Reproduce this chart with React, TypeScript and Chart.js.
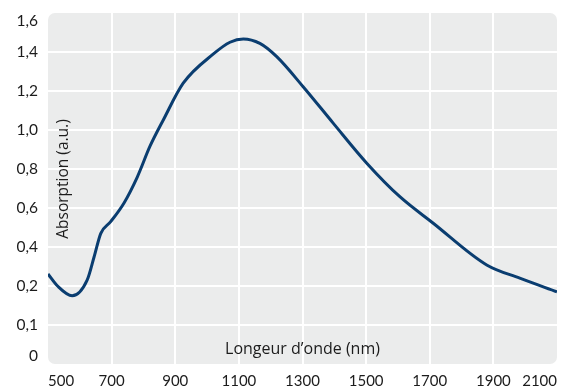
import React, { useEffect, useRef } from 'react';
import { Chart, registerables } from 'chart.js';

Chart.register(...registerables);

// Wavelength (nm) and absorption (a.u.)
const wavelengths = [500, 530, 576, 623, 645, 666, 697, 739, 781, 821, 862, 925, 1020, 1072, 1114, 1166, 1219, 1302, 1397, 1502, 1606, 1711, 1879, 1983, 2100];
const absorption = [0.262, 0.2, 0.175, 0.23, 0.35, 0.47, 0.53, 0.626, 0.76, 0.918, 1.05, 1.24, 1.39, 1.45, 1.467, 1.444, 1.376, 1.222, 1.034, 0.83, 0.658, 0.522, 0.308, 0.24, 0.185];

// Axis ticks
const xTickValues = [500, 700, 900, 1100, 1300, 1500, 1700, 1900, 2100];
const yTickValues = [0, 0.1, 0.2, 0.4, 0.6, 0.8, 1.0, 1.2, 1.4, 1.6];
const yTickLabels = ['0', '0,1', '0,2', '0,4', '0,6', '0,8', '1,0', '1,2', '1,4', '1,6'];

const xTitle = 'Longeur d\u2019onde (nm)';
const yTitle = 'Absorption (a.u.)';

const TICK_FONT = 'Lato';
const TITLE_FONT = '"Open Sans"';
const TEXT = '#1c1c1c';
const LINE = '#0a3d70';
const BG = '#ebecec';

// the axis bands are equally spaced: map value -> band index position
function toPos(v: number): number {
  for (let i = 0; i < yTickValues.length - 1; i++) {
    const a = yTickValues[i];
    const b = yTickValues[i + 1];
    if (v <= b || i === yTickValues.length - 2) {
      return i + (v - a) / (b - a);
    }
  }
  return 0;
}

const bgPlugin = {
  id: 'bgPlugin',
  beforeDraw(chart: any) {
    const { ctx, chartArea } = chart;
    const { left, top, right, bottom } = chartArea;
    ctx.save();
    ctx.fillStyle = BG;
    ctx.beginPath();
    ctx.roundRect(left, top, right - left, bottom - top, 7);
    ctx.fill();
    ctx.restore();
  },
  beforeDatasetsDraw(chart: any) {
    const { ctx, chartArea } = chart;
    ctx.save();
    ctx.fillStyle = TEXT;
    ctx.textAlign = 'center';
    ctx.textBaseline = 'middle';
    ctx.font = `16px ${TITLE_FONT}`;
    ctx.fillText(xTitle, (chartArea.left + chartArea.right) / 2, chartArea.bottom - 15);
    ctx.font = `15.5px ${TITLE_FONT}`;
    ctx.translate(chartArea.left + 16, 179);
    ctx.rotate(-Math.PI / 2);
    ctx.fillText(yTitle, 0, 0);
    ctx.restore();
  },
};

export default function App() {
  const ref = useRef<HTMLCanvasElement | null>(null);

  useEffect(() => {
    if (!ref.current) return;
    const yMax = yTickValues.length - 1;
    const chart = new Chart(ref.current, {
      type: 'line',
      data: {
        datasets: [
          {
            data: wavelengths.map((w, i) => ({ x: w, y: toPos(absorption[i]) })),
            borderColor: LINE,
            borderWidth: 3,
            pointRadius: 0,
            fill: false,
            cubicInterpolationMode: 'monotone',
          },
        ],
      },
      options: {
        animation: false,
        responsive: false,
        maintainAspectRatio: false,
        layout: { padding: { top: 13, right: 13, left: 0, bottom: 0 } },
        plugins: { legend: { display: false }, tooltip: { enabled: false } },
        scales: {
          x: {
            type: 'linear',
            min: xTickValues[0],
            max: xTickValues[xTickValues.length - 1],
            afterBuildTicks: (s: any) => {
              s.ticks = xTickValues.map((v) => ({ value: v }));
            },
            afterFit: (s: any) => {
              s.height = 28;
              s.paddingLeft = 0;
              s.paddingRight = 0;
            },
            border: { display: false },
            grid: {
              drawTicks: false,
              lineWidth: 2,
              color: (c: any) =>
                c.tick && c.tick.value > xTickValues[0] && c.tick.value < xTickValues[xTickValues.length - 1]
                  ? '#ffffff'
                  : 'rgba(0,0,0,0)',
            },
            ticks: {
              align: 'inner',
              padding: 8,
              maxRotation: 0,
              autoSkip: false,
              color: TEXT,
              font: { family: TICK_FONT, size: 15 },
              callback: (v: any) => String(v),
            },
          },
          y: {
            type: 'linear',
            min: 0,
            max: yMax,
            afterBuildTicks: (s: any) => {
              const vals = yTickValues.map((_, i) => i);
              vals[0] = 0.2;
              vals[vals.length - 1] = yMax - 0.2;
              s.ticks = vals.map((v) => ({ value: v }));
            },
            afterFit: (s: any) => {
              s.width = 48;
              s.paddingTop = 0;
              s.paddingBottom = 0;
            },
            border: { display: false },
            grid: {
              drawTicks: false,
              lineWidth: 2,
              color: (c: any) =>
                c.tick && Number.isInteger(c.tick.value) && c.tick.value > 0 && c.tick.value < yMax
                  ? '#ffffff'
                  : 'rgba(0,0,0,0)',
            },
            ticks: {
              padding: 10,
              autoSkip: false,
              color: TEXT,
              font: { family: TICK_FONT, size: 15.5 },
              callback: (_v: any, i: number) => yTickLabels[i],
            },
          },
        },
      },
      plugins: [bgPlugin],
    } as any);
    return () => chart.destroy();
  }, []);

  return (
    <div style={{ position: 'fixed', left: 0, top: 0, width: 570, height: 392, background: '#ffffff' }}>
      <canvas ref={ref} width={570} height={392} style={{ width: 570, height: 392, display: 'block' }} />
    </div>
  );
}
